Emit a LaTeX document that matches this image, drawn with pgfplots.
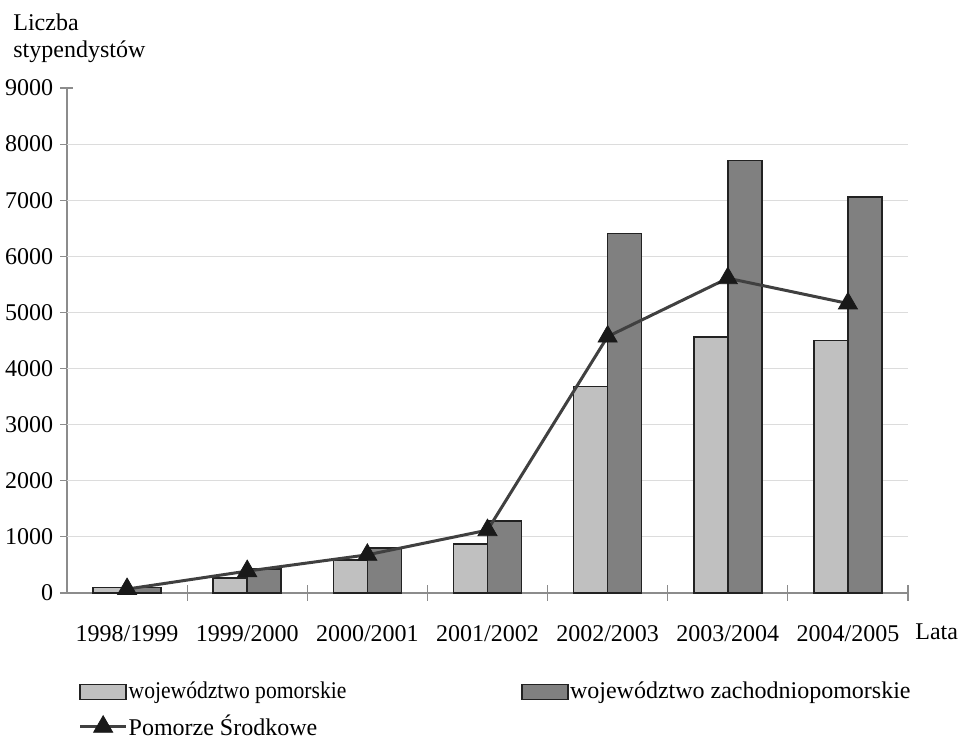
\documentclass[border=0pt]{standalone}
\usepackage{fontspec}
\setmainfont{Liberation Serif}
\newfontfamily\condfont[FakeStretch=0.9]{Liberation Serif}
\usepackage{pgfplots}
\pgfplotsset{compat=1.18}

\definecolor{pomlight}{HTML}{C0C0C0}
\definecolor{zachdark}{HTML}{808080}
\definecolor{edge}{HTML}{222222}
\definecolor{linec}{HTML}{404040}
\definecolor{axisc}{HTML}{8C8C8C}
\definecolor{gridc}{HTML}{DCDCDC}

\pgfplotsset{
    barleg/.style={legend image code/.code={\draw[##1] (0pt,-3.75pt) rectangle (23pt,3.75pt);}},
    lineleg/.style={legend image code/.code={
        \draw[##1, mark repeat=2, mark phase=2] plot coordinates {(0pt,0pt) (11.5pt,0pt) (23pt,0pt)};}},
}

\begin{document}
\begin{tikzpicture}[font=\fontsize{12}{14}\selectfont]
\path[use as bounding box] (-33.5pt,-75pt) rectangle (445.5pt,296.5pt);
\begin{axis}[
    scale only axis,
    width=420.5pt, height=252.5pt,
    xmin=-0.5, xmax=6.5,
    ymin=0, ymax=9000,
    axis x line=bottom, axis y line=left,
    axis line style={axisc, line width=0.6pt, -},
    xtick={0,...,6},
    xticklabels={1998/1999,1999/2000,2000/2001,2001/2002,2002/2003,2003/2004,2004/2005},
    major x tick style={draw=none},
    minor xtick={0.5,1.5,...,6.5},
    minor tick length=8pt,
    minor x tick style={axisc, line width=0.6pt},
    ytick={0,1000,...,9000},
    major tick length=6.5pt,
    tick align=center,
    y tick style={axisc, line width=0.6pt},
    extra y ticks={1000,2000,...,8000},
    extra y tick labels={},
    extra y tick style={grid=major, major grid style={gridc, line width=0.6pt}, major tick length=0pt},
    /pgf/number format/1000 sep={},
    /pgf/number format/assume math mode=true,
    xticklabel style={anchor=base, yshift=-21pt},
    yticklabel style={anchor=east, inner sep=0pt, xshift=-3.5pt},
    clip=false,
    legend columns=2,
    legend style={
        at={(axis description cs:0.0134,-0.174)}, anchor=north west,
        draw=none, fill=none, inner sep=0pt,
        row sep=5.5pt,
        font={\fontsize{12}{14}\selectfont},
        nodes={inner sep=0.5pt, anchor=west},
        /tikz/every even column/.append style={column sep=87pt},
    },
    legend cell align=left,
]
\addplot[ybar, bar width=17pt, bar shift=-8.5pt, fill=pomlight, draw=edge, line width=0.8pt, barleg]
    coordinates {(0,100) (1,270) (2,590) (3,870) (4,3680) (5,4560) (6,4500)};
\addlegendentry{\condfont województwo pomorskie}
\addplot[ybar, bar width=17pt, bar shift=8.5pt, fill=zachdark, draw=edge, line width=0.8pt, barleg]
    coordinates {(0,100) (1,430) (2,800) (3,1280) (4,6410) (5,7710) (6,7060)};
\addlegendentry{województwo zachodniopomorskie}
\addplot[sharp plot, linec, line width=1.5pt, mark=triangle*, mark size=5.5pt,
    mark options={fill=black!90, draw=black!90, line width=0.4pt}, lineleg]
    coordinates {(0,70) (1,390) (2,680) (3,1120) (4,4570) (5,5610) (6,5160)};
\addlegendentry{Pomorze Środkowe}
\end{axis}
\node[anchor=base west, inner sep=0pt] at (-27pt,281pt) {Liczba};
\node[anchor=base west, inner sep=0pt] at (-27pt,267.5pt) {stypendystów};
\node[anchor=base west, inner sep=0pt] at (424pt,-23.5pt) {Lata};
\end{tikzpicture}
\end{document}
